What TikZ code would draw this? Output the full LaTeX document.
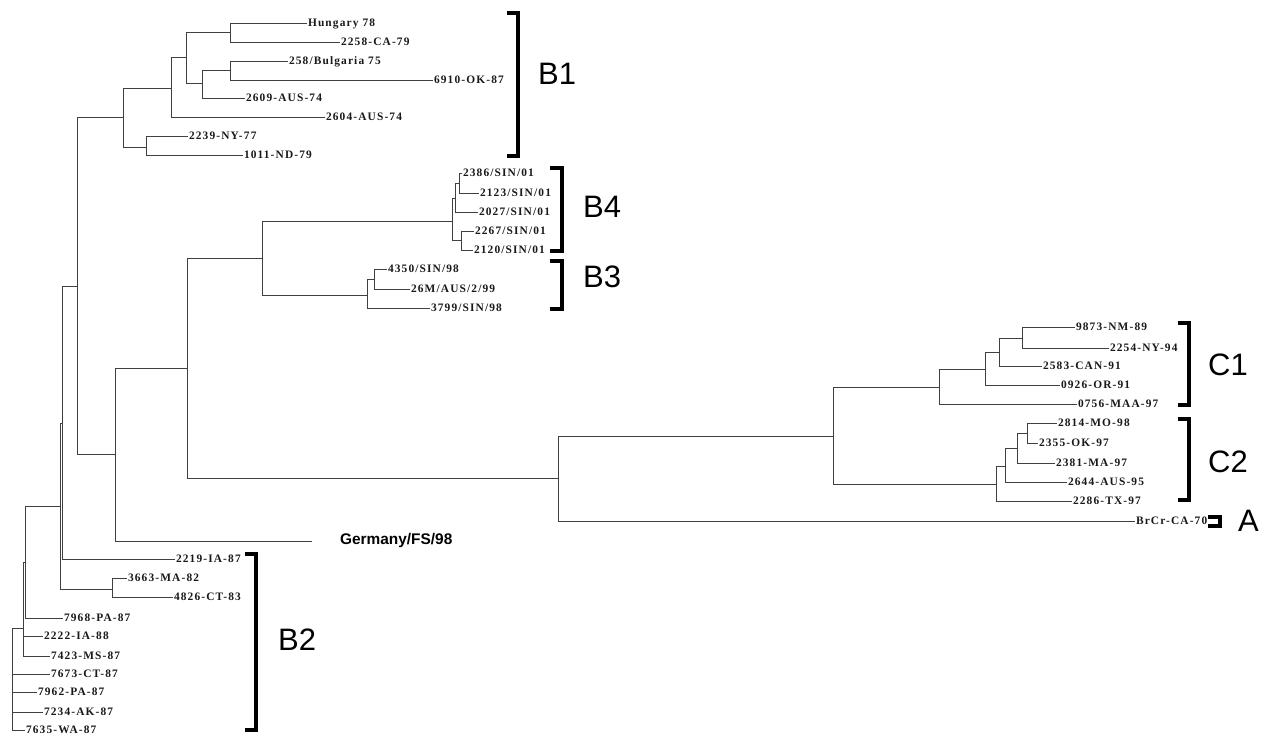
\documentclass[tikz,border=0pt]{standalone}
\usepackage{fontspec}
\newfontfamily\leafserif[LetterSpace=10]{Liberation Serif}
\newfontfamily\cladesans{Liberation Sans}
\newcommand\leaffnt{\leafserif\bfseries\fontsize{11.4pt}{12pt}\selectfont}
\newcommand\cladefnt{\cladesans\fontsize{31pt}{31pt}\selectfont}
\newcommand\gerfnt{\cladesans\bfseries\fontsize{15.4pt}{16pt}\selectfont}
\begin{document}
\begin{tikzpicture}[x=1pt,y=-1pt,
  br/.style={draw=black!75, line width=0.9pt},
  leaf/.style={anchor=west, inner sep=1pt, outer sep=0pt, font=\leaffnt, text height=7.5pt, text depth=0pt, text=black!90},
  clade/.style={draw=black, line width=4pt, miter limit=10},
  cladelab/.style={anchor=west, inner sep=0pt, font=\cladefnt},
  gerlab/.style={anchor=west, inner sep=0pt, font=\gerfnt}]
\useasboundingbox (0,0) rectangle (1265,736);
% internal nodes
\coordinate (R) at (12,628);
\coordinate (n23) at (23,628);
\coordinate (n25) at (25,562);
\coordinate (n60) at (60,506);
\coordinate (n62) at (62,423);
\coordinate (n112) at (112,589);
\coordinate (n77) at (77,286);
\coordinate (n123) at (123,117);
\coordinate (n146) at (146,147);
\coordinate (n171) at (171,88);
\coordinate (n186) at (186,57);
\coordinate (n230a) at (230,32);
\coordinate (n202) at (202,83);
\coordinate (n230b) at (230,70);
\coordinate (n115) at (115,454);
\coordinate (n187) at (187,368);
\coordinate (n262) at (262,258);
\coordinate (n452) at (452,221);
\coordinate (n455) at (455,198);
\coordinate (n459) at (459,183);
\coordinate (n461) at (461,240);
\coordinate (n367) at (367,295);
\coordinate (n374) at (374,279);
\coordinate (n558) at (558,478);
\coordinate (n833) at (833,436);
\coordinate (n939) at (939,387);
\coordinate (n985) at (985,369);
\coordinate (n999) at (999,352);
\coordinate (n1022) at (1022,338);
\coordinate (n996) at (996,484);
\coordinate (n1005) at (1005,466);
\coordinate (n1017) at (1017,448);
\coordinate (n1027) at (1027,433);
\coordinate (gerend) at (312,541);
% leaves
\node[leaf] (hun) at (307,23) {Hungary 78};
\node[leaf] (ca79) at (340,42) {2258-CA-79};
\node[leaf] (bul) at (288,61) {258/Bulgaria 75};
\node[leaf] (ok87) at (433,80) {6910-OK-87};
\node[leaf] (aus74a) at (245,98) {2609-AUS-74};
\node[leaf] (aus74b) at (325,117) {2604-AUS-74};
\node[leaf] (ny77) at (188,136) {2239-NY-77};
\node[leaf] (nd79) at (243,155) {1011-ND-79};
\node[leaf] (s2386) at (462,173) {2386/SIN/01};
\node[leaf] (s2123) at (479,193) {2123/SIN/01};
\node[leaf] (s2027) at (478,212) {2027/SIN/01};
\node[leaf] (s2267) at (474,231) {2267/SIN/01};
\node[leaf] (s2120) at (473,250) {2120/SIN/01};
\node[leaf] (s4350) at (387,269) {4350/SIN/98};
\node[leaf] (aus99) at (410,289) {26M/AUS/2/99};
\node[leaf] (s3799) at (430,308) {3799/SIN/98};
\node[leaf] (nm89) at (1075,327) {9873-NM-89};
\node[leaf] (ny94) at (1109,348) {2254-NY-94};
\node[leaf] (can91) at (1042,366) {2583-CAN-91};
\node[leaf] (or91) at (1060,385) {0926-OR-91};
\node[leaf] (maa97) at (1077,404) {0756-MAA-97};
\node[leaf] (mo98) at (1057,423) {2814-MO-98};
\node[leaf] (ok97) at (1038,443) {2355-OK-97};
\node[leaf] (ma97) at (1055,463) {2381-MA-97};
\node[leaf] (aus95) at (1067,482) {2644-AUS-95};
\node[leaf] (tx97) at (1072,501) {2286-TX-97};
\node[leaf] (brcr) at (1135,521) {BrCr-CA-70};
\node[gerlab] (ger) at (340,541) {Germany/FS/98};
\node[leaf] (ia87) at (175,559) {2219-IA-87};
\node[leaf] (ma82) at (127,578) {3663-MA-82};
\node[leaf] (ct83) at (173,597) {4826-CT-83};
\node[leaf] (pa87a) at (63,618) {7968-PA-87};
\node[leaf] (ia88) at (43,636) {2222-IA-88};
\node[leaf] (ms87) at (50,656) {7423-MS-87};
\node[leaf] (ct87) at (50,674) {7673-CT-87};
\node[leaf] (pa87b) at (37,692) {7962-PA-87};
\node[leaf] (ak87) at (43,712) {7234-AK-87};
\node[leaf] (wa87) at (25,730) {7635-WA-87};
% branches
\draw[br] (R) |- (n23);
\draw[br] (R) |- (ct87.west);
\draw[br] (R) |- (pa87b.west);
\draw[br] (R) |- (ak87.west);
\draw[br] (R) |- (wa87.west);
\draw[br] (n23) |- (n25);
\draw[br] (n23) |- (ia88.west);
\draw[br] (n23) |- (ms87.west);
\draw[br] (n25) |- (n60);
\draw[br] (n25) |- (pa87a.west);
\draw[br] (n60) |- (n62);
\draw[br] (n60) |- (n112);
\draw[br] (n112) |- (ma82.west);
\draw[br] (n112) |- (ct83.west);
\draw[br] (n62) |- (n77);
\draw[br] (n62) |- (ia87.west);
\draw[br] (n77) |- (n123);
\draw[br] (n77) |- (n115);
\draw[br] (n123) |- (n171);
\draw[br] (n123) |- (n146);
\draw[br] (n146) |- (ny77.west);
\draw[br] (n146) |- (nd79.west);
\draw[br] (n171) |- (n186);
\draw[br] (n171) |- (aus74b.west);
\draw[br] (n186) |- (n230a);
\draw[br] (n186) |- (n202);
\draw[br] (n230a) |- (hun.west);
\draw[br] (n230a) |- (ca79.west);
\draw[br] (n202) |- (n230b);
\draw[br] (n202) |- (aus74a.west);
\draw[br] (n230b) |- (bul.west);
\draw[br] (n230b) |- (ok87.west);
\draw[br] (n115) |- (n187);
\draw[br] (n115) |- (gerend);
\draw[br] (n187) |- (n262);
\draw[br] (n187) |- (n558);
\draw[br] (n262) |- (n452);
\draw[br] (n262) |- (n367);
\draw[br] (n452) |- (n455);
\draw[br] (n452) |- (n461);
\draw[br] (n455) |- (n459);
\draw[br] (n455) |- (s2027.west);
\draw[br] (n459) |- (s2386.west);
\draw[br] (n459) |- (s2123.west);
\draw[br] (n461) |- (s2267.west);
\draw[br] (n461) |- (s2120.west);
\draw[br] (n367) |- (n374);
\draw[br] (n367) |- (s3799.west);
\draw[br] (n374) |- (s4350.west);
\draw[br] (n374) |- (aus99.west);
\draw[br] (n558) |- (n833);
\draw[br] (n558) |- (brcr.west);
\draw[br] (n833) |- (n939);
\draw[br] (n833) |- (n996);
\draw[br] (n939) |- (n985);
\draw[br] (n939) |- (maa97.west);
\draw[br] (n985) |- (n999);
\draw[br] (n985) |- (or91.west);
\draw[br] (n999) |- (n1022);
\draw[br] (n999) |- (can91.west);
\draw[br] (n1022) |- (nm89.west);
\draw[br] (n1022) |- (ny94.west);
\draw[br] (n996) |- (n1005);
\draw[br] (n996) |- (tx97.west);
\draw[br] (n1005) |- (n1017);
\draw[br] (n1005) |- (aus95.west);
\draw[br] (n1017) |- (n1027);
\draw[br] (n1017) |- (ma97.west);
\draw[br] (n1027) |- (mo98.west);
\draw[br] (n1027) |- (ok97.west);
% clade brackets
\draw[clade] (507,13) -- (518,13) -- (518,156) -- (507,156);
\draw[clade] (550,168) -- (562,168) -- (562,251) -- (550,251);
\draw[clade] (550,261) -- (562,261) -- (562,309) -- (550,309);
\draw[clade] (1178,323) -- (1189,323) -- (1189,405) -- (1178,405);
\draw[clade] (1178,419) -- (1189,419) -- (1189,500) -- (1178,500);
\draw[clade] (1208,517) -- (1220,517) -- (1220,526) -- (1208,526);
\draw[clade] (245,554) -- (256,554) -- (256,730) -- (245,730);
\node[cladelab] (lB1) at (538,74) {B1};
\node[cladelab] (lB4) at (583,207) {B4};
\node[cladelab] (lB3) at (583,277) {B3};
\node[cladelab] (lC1) at (1208,365) {C1};
\node[cladelab] (lC2) at (1208,462) {C2};
\node[cladelab] (lA) at (1238,521) {A};
\node[cladelab] (lB2) at (278,640) {B2};
\end{tikzpicture}
\end{document}
